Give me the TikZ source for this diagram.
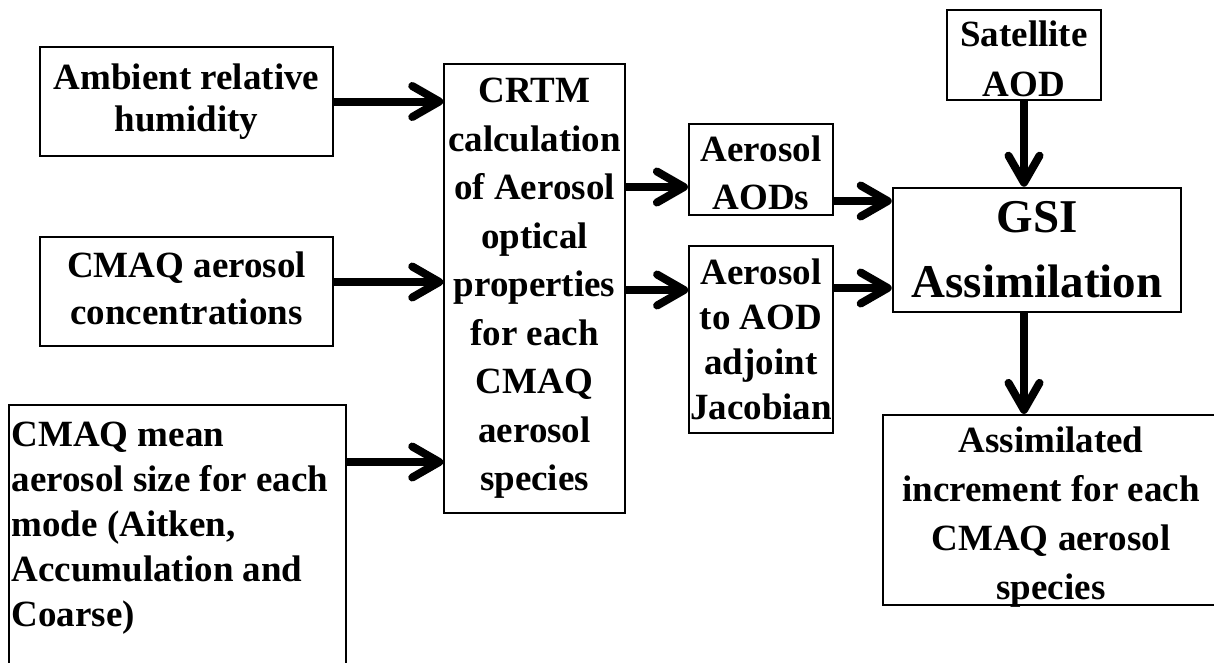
\documentclass[tikz,border=0pt]{standalone}
\usepackage{fontspec}
\setmainfont{Liberation Serif}
\usetikzlibrary{arrows.meta}
\begin{document}
\begin{tikzpicture}[x=1pt,y=-1pt,
  box/.style={draw, line width=2.2pt, inner sep=0pt, align=center},
  fs/.style={font=\bfseries\fontsize{37}{#1}\selectfont},
  conn/.style={line width=8pt, -{Straight Barb[length=27pt,width=31pt,round]}}]
\useasboundingbox (0,0) rectangle (1214,662);
% nodes
\node[box, fs=42, minimum width=293, minimum height=109] (amb) at (186.5,101.5) {Ambient relative\\humidity};
\node[box, fs=47, minimum width=293, minimum height=109] (conc) at (186.5,291.5) {CMAQ aerosol\\concentrations\rule[-7pt]{0pt}{0pt}};
\node[box, fs=45, anchor=north west, inner xsep=2.5pt, inner ysep=17pt, text width=332pt, align=flush left] (mean) at (8,404)
  {CMAQ mean\\aerosol size for each\\mode (Aitken,\\Accumulation and\\Coarse)\rule[-40pt]{0pt}{0pt}};
\node[box, line width=1.5pt, fs=48.5, minimum width=181, minimum height=449] (crtm) at (534.5,288.5)
  {CRTM\\calculation\\of Aerosol\\optical\\properties\\for each\\CMAQ\\aerosol\\species};
\node[box, fs=48, minimum width=144, minimum height=91] (aods) at (761,169.5) {\rule{0pt}{33pt}Aerosol\\AODs};
\node[box, line width=1.8pt, fs=45, minimum width=144, minimum height=187] (jac) at (761,339.5) {Aerosol\\to AOD\\adjoint\\Jacobian};
\node[box, fs=50, minimum width=154, minimum height=90] (sat) at (1024,55) {\rule{0pt}{34pt}Satellite\\AOD};
\node[box, line width=2.6pt, font=\bfseries\fontsize{47}{65}\selectfont, minimum width=288, minimum height=124] (gsi) at (1037,250) {GSI\\Assimilation};
\node[box, fs=49, minimum width=336, minimum height=190] (assim) at (1051,510) {\rule{0pt}{31pt}Assimilated\\increment for each\\CMAQ aerosol\\\smash{species}};
% connectors
\draw[conn] (amb.east) -- (amb.east -| crtm.west);
\draw[conn] ([yshift=9.5pt]conc.east) -- ([yshift=9.5pt]conc.east -| crtm.west);
\draw[conn] ([yshift=-58pt]mean.north east) -- ([yshift=-58pt]mean.north east -| crtm.west);
\draw[conn] ([yshift=-17.5pt]aods.west -| crtm.east) -- ([yshift=-17.5pt]aods.west);
\draw[conn] ([yshift=49.5pt]jac.west -| crtm.east) -- ([yshift=49.5pt]jac.west);
\draw[conn] ([yshift=-31.5pt]aods.east) -- ([yshift=-31.5pt]aods.east -| gsi.west);
\draw[conn] ([yshift=51.5pt]jac.east) -- ([yshift=51.5pt]jac.east -| gsi.west);
\draw[conn] (sat.south) -- (sat.south |- gsi.north);
\draw[conn] (gsi.south -| sat.south) -- (sat.south |- assim.north);
\end{tikzpicture}
\end{document}
